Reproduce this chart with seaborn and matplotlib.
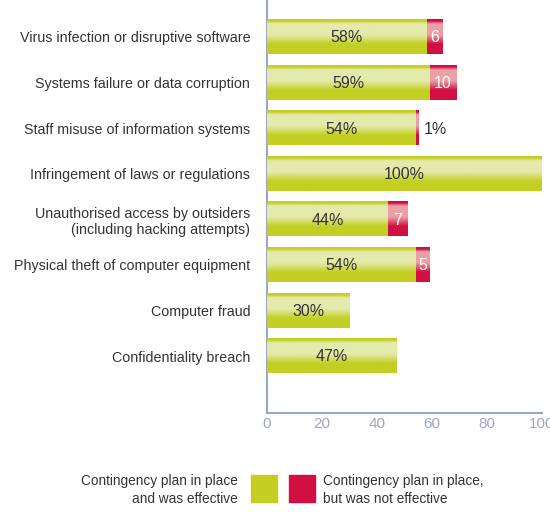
import numpy as np
import pandas as pd
import matplotlib
matplotlib.use("Agg")
import matplotlib.pyplot as plt
import seaborn as sns
from matplotlib.colors import to_rgb
from matplotlib.patches import Rectangle

# Data
categories = [
    "Virus infection or disruptive software",
    "Systems failure or data corruption",
    "Staff misuse of information systems",
    "Infringement of laws or regulations",
    "Unauthorised access by outsiders\n(including hacking attempts)",
    "Physical theft of computer equipment",
    "Computer fraud",
    "Confidentiality breach",
]
effective = [58, 59, 54, 100, 44, 54, 30, 47]
not_effective = [6, 10, 1, 0, 7, 5, 0, 0]

green = "#c3cf22"
green_light = "#e4eaab"
red = "#d20f43"
red_light = "#eaa0a6"
axis_col = "#9ea6c4"
text_col = "#333333"

sns.set_style("white")
plt.rcParams["font.family"] = ["Liberation Sans", "DejaVu Sans"]

df = pd.DataFrame({"category": categories, "effective": effective,
                   "not_effective": not_effective})
df["total"] = df["effective"] + df["not_effective"]

fig = plt.figure(figsize=(5.5, 5.12), dpi=100)
ax = fig.add_axes([267 / 550, 1 - 413 / 512, 275 / 550, 413 / 512])

sns.barplot(data=df, y="category", x="total", color=red, width=0.75,
            orient="h", ax=ax, saturation=1)
sns.barplot(data=df, y="category", x="effective", color=green, width=0.75,
            orient="h", ax=ax, saturation=1)


def gradient(base, light, n=64):
    b = np.array(to_rgb(base))
    l = np.array(to_rgb(light))
    stops = [(0.0, b), (0.05, b), (0.13, l), (0.45, l), (0.72, b), (1.0, b)]
    pos = np.linspace(0, 1, n)
    img = np.zeros((n, 1, 3))
    for c in range(3):
        img[:, 0, c] = np.interp(pos, [s[0] for s in stops], [s[1][c] for s in stops])
    return img


# glossy overlay on each bar
n_red = len(categories)
for i, p in enumerate(ax.patches):
    w = p.get_width()
    if w <= 0:
        continue
    x0, y0, h = p.get_x(), p.get_y(), p.get_height()
    is_red = i < n_red
    img = gradient(red, red_light) if is_red else gradient(green, green_light)
    ax.imshow(img, extent=[x0, x0 + w, y0 + h, y0], aspect="auto",
              zorder=2 if is_red else 3, interpolation="bilinear")

# value labels
for i, (g, r) in enumerate(zip(effective, not_effective)):
    ax.text(g / 2, i + 0.02, f"{g}%", ha="center", va="center", fontsize=11.5,
            color=text_col, zorder=5)
    if r >= 3:
        ax.text(g + r / 2, i + 0.02, f"{r}", ha="center", va="center", fontsize=11.5,
                color="white", zorder=5)
    elif r > 0:
        ax.text(g + r + 2, i + 0.02, f"{r}%", ha="left", va="center", fontsize=11.5,
                color=text_col, zorder=5)

ax.set_xlim(0, 100)
ax.set_ylim(8.25, -0.81)
ax.set_xticks([0, 20, 40, 60, 80, 100])
ax.set_xlabel("")
ax.set_ylabel("")
ax.set_yticks(range(len(categories)))
ax.set_yticklabels(categories, fontsize=10.3, color=text_col)
ax.tick_params(axis="y", length=0, pad=12)
ax.tick_params(axis="x", direction="in", length=6, width=1.2, colors=axis_col,
               labelsize=11, pad=3)
for lbl in ax.get_yticklabels():
    lbl.set_multialignment("right")
for s in ["top", "right"]:
    ax.spines[s].set_visible(False)
for s in ["left", "bottom"]:
    ax.spines[s].set_color(axis_col)
    ax.spines[s].set_linewidth(1.5)

# legend
fig.text(238 / 550, 1 - 490 / 512, "Contingency plan in place\nand was effective",
         ha="right", va="center", fontsize=9.8, color=text_col, linespacing=1.3)
fig.patches.append(Rectangle((251 / 550, 1 - 502 / 512), 26 / 550, 27 / 512,
                             transform=fig.transFigure, color=green))
fig.patches.append(Rectangle((289 / 550, 1 - 502 / 512), 26 / 550, 27 / 512,
                             transform=fig.transFigure, color=red))
fig.text(323 / 550, 1 - 490 / 512, "Contingency plan in place,\nbut was not effective",
         ha="left", va="center", fontsize=9.8, color=text_col, linespacing=1.3)

fig.savefig("out.png", dpi=100)
